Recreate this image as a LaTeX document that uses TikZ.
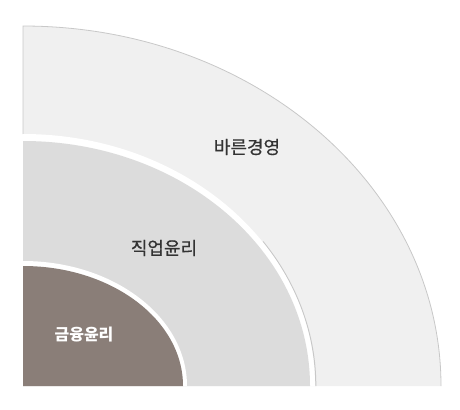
\documentclass[tikz,border=0pt]{standalone}
\usepackage{fontspec}
\newfontfamily\kfont[FakeBold=0.6]{Noto Sans CJK KR}
\newfontfamily\kfontcore{Noto Sans CJK KR}
\definecolor{outerfill}{HTML}{F0F0F0}
\definecolor{outerline}{HTML}{C8C8C8}
\definecolor{midfill}{HTML}{DCDCDC}
\definecolor{innerfill}{HTML}{8A7E78}
\definecolor{labeltext}{HTML}{333333}
\tikzset{
  ringlabel/.style={font=\kfont\fontsize{18bp}{21bp}\selectfont, text=labeltext, inner sep=0pt},
  corelabel/.style={font=\kfontcore\bfseries\fontsize{16bp}{19bp}\selectfont, text=white, inner sep=0pt}
}
\begin{document}
\begin{tikzpicture}[x=1bp, y=1bp]
  \useasboundingbox (-23,-23) rectangle (437,386);
  \coordinate (o) at (0,0);
  % outer ring
  \fill[outerfill] (o) -- (0,360) arc[start angle=90, end angle=0, x radius=418, y radius=360] -- cycle;
  \draw[outerline, line width=0.8bp] (0,252) -- (0,360) arc[start angle=90, end angle=0, x radius=418, y radius=360];
  % gap with a faint shadow on its right side
  \draw[outerline, line width=1bp, xshift=0.8bp] (292,0) arc[start angle=0, end angle=35, x radius=292, y radius=252];
  \fill[white] (o) -- (0,252) arc[start angle=90, end angle=0, x radius=292, y radius=252] -- cycle;
  % middle ring
  \fill[midfill] (o) -- (0,245) arc[start angle=90, end angle=0, x radius=287, y radius=245] -- cycle;
  \fill[white] (o) -- (0,125) arc[start angle=90, end angle=0, x radius=164, y radius=125] -- cycle;
  % core
  \fill[innerfill] (o) -- (0,120) arc[start angle=90, end angle=0, x radius=160, y radius=120] -- cycle;
  \node[ringlabel] (outer) at (224,239) {바른경영};
  \node[ringlabel] (middle) at (141,138) {직업윤리};
  \node[corelabel] (core) at (61,51) {금융윤리};
\end{tikzpicture}
\end{document}
